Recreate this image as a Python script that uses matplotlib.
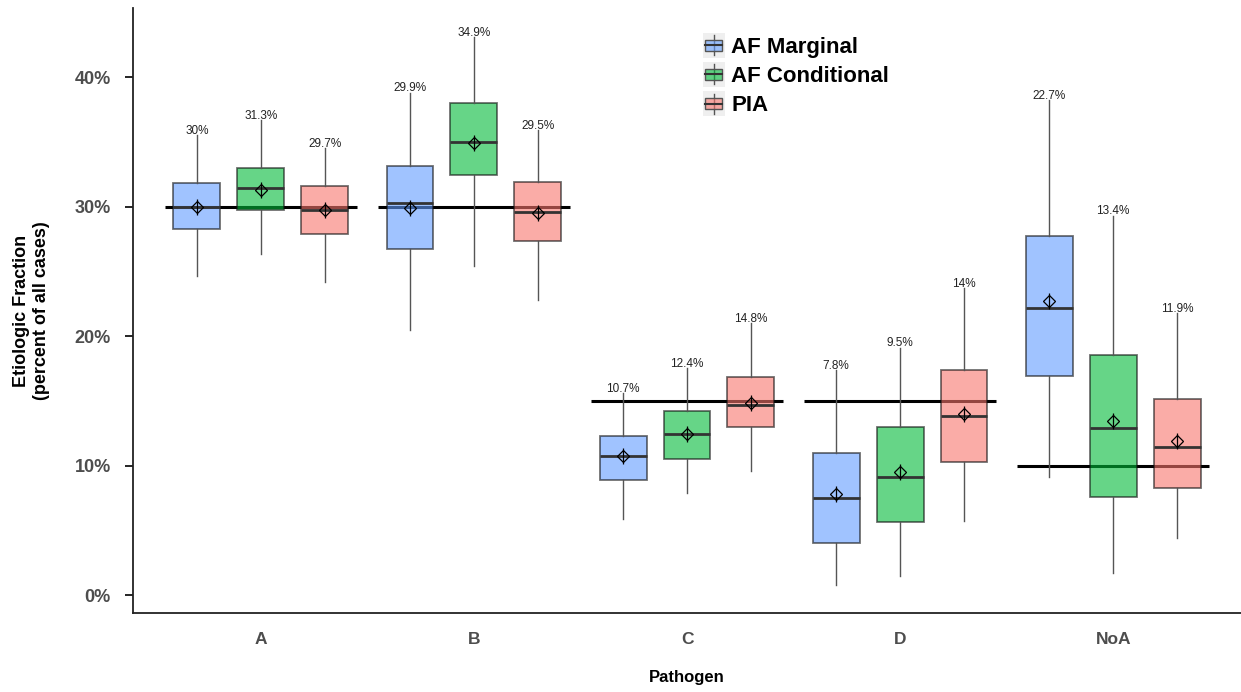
import matplotlib
matplotlib.use("Agg")
import matplotlib.pyplot as plt
from matplotlib.patches import Patch, Rectangle
from matplotlib.lines import Line2D
from matplotlib.legend_handler import HandlerBase
from matplotlib.ticker import FuncFormatter

plt.rcParams["font.family"] = ["Liberation Sans", "DejaVu Sans"]

# pathogens on the x axis
pathogens = ["A", "B", "C", "D", "NoA"]
series = ["AF Marginal", "AF Conditional", "PIA"]
colors = ["#619CFF", "#00BA38", "#F8766D"]

# reference (true) etiologic fraction per pathogen
reference = [0.30, 0.30, 0.15, 0.15, 0.10]

# box statistics (fractions)
marg_lo = [0.246, 0.205, 0.059, 0.008, 0.091]
marg_q1 = [0.283, 0.267, 0.089, 0.040, 0.169]
marg_med = [0.300, 0.303, 0.107, 0.075, 0.222]
marg_q3 = [0.318, 0.331, 0.123, 0.110, 0.277]
marg_hi = [0.355, 0.388, 0.156, 0.174, 0.382]
marg_mean = [0.300, 0.299, 0.107, 0.078, 0.227]

cond_lo = [0.263, 0.254, 0.079, 0.015, 0.017]
cond_q1 = [0.297, 0.324, 0.105, 0.056, 0.076]
cond_med = [0.314, 0.350, 0.124, 0.091, 0.129]
cond_q3 = [0.330, 0.380, 0.142, 0.130, 0.185]
cond_hi = [0.367, 0.431, 0.175, 0.191, 0.293]
cond_mean = [0.313, 0.349, 0.124, 0.095, 0.134]

pia_lo = [0.242, 0.228, 0.096, 0.057, 0.044]
pia_q1 = [0.279, 0.273, 0.130, 0.103, 0.083]
pia_med = [0.297, 0.296, 0.147, 0.138, 0.114]
pia_q3 = [0.316, 0.319, 0.168, 0.174, 0.151]
pia_hi = [0.345, 0.359, 0.210, 0.237, 0.218]
pia_mean = [0.297, 0.295, 0.148, 0.140, 0.119]

stats_by_series = [
    (marg_lo, marg_q1, marg_med, marg_q3, marg_hi, marg_mean),
    (cond_lo, cond_q1, cond_med, cond_q3, cond_hi, cond_mean),
    (pia_lo, pia_q1, pia_med, pia_q3, pia_hi, pia_mean),
]

W, H = 1241, 692
fig = plt.figure(figsize=(W / 100, H / 100), dpi=100)
ax = fig.add_axes([133 / W, 1 - 613 / H, 1 - 133 / W, (613 - 8) / H])

offset = 0.30
box_w = 0.22
edge = "#555555"

# reference lines sit underneath the boxes
for i, ref in enumerate(reference):
    ax.hlines(ref, i - 0.45, i + 0.45, color="black", lw=2.2, zorder=1)

for s, (lo, q1, med, q3, hi, mean) in enumerate(stats_by_series):
    pos = [i + (s - 1) * offset for i in range(len(pathogens))]
    bstats = [
        {"whislo": lo[i], "q1": q1[i], "med": med[i], "q3": q3[i],
         "whishi": hi[i], "mean": mean[i], "fliers": []}
        for i in range(len(pathogens))
    ]
    art = ax.bxp(bstats, positions=pos, widths=box_w, patch_artist=True,
                 showcaps=False, showfliers=False, showmeans=False,
                 boxprops=dict(facecolor=colors[s], alpha=0.6, edgecolor="#111111", lw=1.3),
                 whiskerprops=dict(color=edge, lw=1.0),
                 medianprops=dict(color="#333333", lw=2.0),
                 manage_ticks=False, zorder=2)
    for b in art["boxes"]:
        b.set_zorder(2)
    ax.plot(pos, mean, ls="none", marker="D", ms=6, mfc="none", mec="black", mew=0.9, zorder=4)
    ax.plot(pos, mean, ls="none", marker="|", ms=11, mec="black", mew=0.9, zorder=4)
    for x, y, m in zip(pos, hi, mean):
        ax.annotate(f"{round(m * 100, 1):g}%", (x, y), xytext=(0, 3), textcoords="offset points",
                    ha="center", va="center", fontsize=8.5, color="#222222", zorder=5)

ax.set_xlim(-0.6, 4.6)
ax.set_ylim(-0.0139, 0.4533)
ax.set_xticks(range(len(pathogens)))
ax.set_xticklabels(pathogens)
ax.set_yticks([0, 0.1, 0.2, 0.3, 0.4])
ax.yaxis.set_major_formatter(FuncFormatter(lambda v, _: f"{v * 100:.0f}%"))

ax.tick_params(axis="x", length=0, pad=14, labelsize=12.5, labelcolor="#4d4d4d")
ax.tick_params(axis="y", length=6, width=1.2, pad=10, labelsize=13, labelcolor="#4d4d4d")
for lab in ax.get_xticklabels() + ax.get_yticklabels():
    lab.set_fontweight("bold")

for side in ("top", "right"):
    ax.spines[side].set_visible(False)
for side in ("left", "bottom"):
    ax.spines[side].set_linewidth(1.3)
    ax.spines[side].set_color("#222222")

ax.set_xlabel("Pathogen", fontsize=12, fontweight="bold", labelpad=16)
ax.set_ylabel("Etiologic Fraction\n(percent of all cases)", fontsize=13, fontweight="bold", labelpad=18)


class BoxKeyHandler(HandlerBase):
    def create_artists(self, legend, orig_handle, xdescent, ydescent, width, height, fontsize, trans):
        x0, y0 = -xdescent, -ydescent
        cx = x0 + width / 2
        bg = Rectangle((x0, y0 - height * 0.12), width, height * 1.24, facecolor="#efefef",
                       edgecolor="none", transform=trans)
        whisk = Line2D([cx, cx], [y0 + height * 0.0, y0 + height * 1.0], color=edge, lw=1, transform=trans)
        box = Rectangle((x0 + width * 0.12, y0 + height * 0.22), width * 0.76, height * 0.56,
                        facecolor=orig_handle.get_facecolor(), edgecolor=edge, lw=1, transform=trans)
        med = Line2D([x0 + width * 0.12, x0 + width * 0.88], [y0 + height / 2] * 2, color="#333333",
                     lw=1.5, transform=trans)
        return [bg, whisk, box, med]


handles = [Patch(facecolor=c, alpha=0.6) for c in colors]
ax.legend(handles, series, handler_map={Patch: BoxKeyHandler()}, loc="upper left",
          bbox_to_anchor=(0.514, 0.955), frameon=False, prop=dict(size=16, weight="bold"),
          handlelength=1.0, handleheight=1.0, labelspacing=0.3, handletextpad=0.3,
          borderpad=0, borderaxespad=0)

fig.savefig("out.png", dpi=100)
